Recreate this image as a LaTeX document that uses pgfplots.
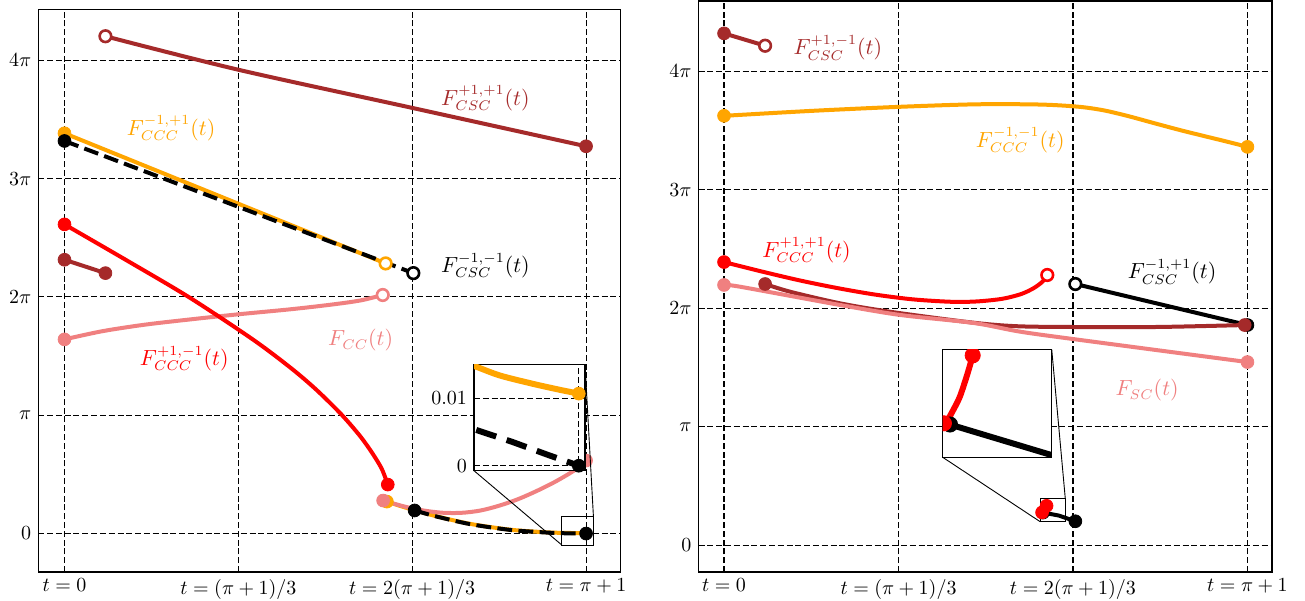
\documentclass[border=0pt]{standalone}
\usepackage{pgfplots}
\pgfplotsset{compat=1.18}
\definecolor{mybrown}{HTML}{A52A2A}
\definecolor{myorange}{HTML}{FFA500}
\definecolor{myred}{HTML}{FF0000}
\definecolor{mypink}{HTML}{F08080}
\pgfplotsset{
  mainax/.style={
    scale only axis,
    anchor=south west,
    grid=major,
    major grid style={black, line width=0.55pt, dash pattern=on 3pt off 1.4pt},
    major tick length=0pt,
    axis line style={line width=0.75pt},
    xtick={0,1.38053,2.76106,4.14159},
    xticklabels={$t=0$,$t=(\pi+1)/3$,$t=2(\pi+1)/3$,$t=\pi+1$},
    ytick={0,1,2,3,4},
    yticklabels={$0$,$\pi$,$2\pi$,$3\pi$,$4\pi$},
    tick label style={font=\fontsize{9.6}{11}\selectfont},
    axis background/.style={fill=white},
  },
  ln/.style={line width=2pt},
  fm/.style={only marks, mark=*, mark size=3.2pt, mark options={solid}},
  om/.style={only marks, mark=*, mark size=2.9pt, mark options={solid, fill=white, line width=1.3pt}},
}
\newcommand{\lab}[1]{\fontsize{10.7}{13}\selectfont$#1$}
\begin{document}
\begin{tikzpicture}
\useasboundingbox (0,0) rectangle (652.5pt,300pt);
% ---------------- LEFT PANEL ----------------
\begin{axis}[mainax, name=L, at={(19.15pt,14pt)}, width=291.1pt, height=281.25pt,
  xmin=-0.208, xmax=4.415, ymin=-0.325, ymax=4.429]
% brown long
\addplot[ln, mybrown, smooth] coordinates {(0.325,4.203) (1.38,3.92) (2.75,3.60) (4.1416,3.273)};
\addplot[om, mybrown] coordinates {(0.325,4.203)};
\addplot[fm, mybrown] coordinates {(4.1416,3.273)};
% brown short
\addplot[ln, mybrown] coordinates {(0,2.314) (0.325,2.201)};
\addplot[fm, mybrown] coordinates {(0,2.314) (0.325,2.201)};
% orange upper
\addplot[ln, myorange] coordinates {(0,3.383) (2.55,2.283)};
\addplot[fm, myorange] coordinates {(0,3.383)};
\addplot[om, myorange] coordinates {(2.55,2.283)};
% orange lower
\addplot[ln, myorange, smooth] coordinates {(2.56,0.270) (2.66,0.235) (2.78,0.197) (2.95,0.147) (3.195,0.087) (3.4,0.052) (3.592,0.027) (3.855,0.009) (4.0,0.005) (4.1416,0.0034)};
\addplot[fm, myorange] coordinates {(2.56,0.270)};
% pink upper
\addplot[ln, mypink, smooth] coordinates {(0,1.641) (0.3,1.71) (0.636,1.765) (1.0,1.81) (1.38,1.853) (1.8,1.896) (2.12,1.935) (2.35,1.97) (2.527,2.016)};
\addplot[fm, mypink] coordinates {(0,1.641)};
\addplot[om, mypink] coordinates {(2.527,2.016)};
% pink lower
\addplot[ln, mypink, smooth] coordinates {(2.53,0.279) (2.7,0.228) (2.85,0.195) (3.0,0.176) (3.15,0.175) (3.3,0.194) (3.45,0.235) (3.6,0.29) (3.75,0.36) (3.9,0.44) (4.05,0.535) (4.1416,0.617)};
\addplot[fm, mypink] coordinates {(2.53,0.279) (4.1416,0.617)};
% red
\addplot[ln, myred, smooth] coordinates {(0,2.613) (0.5,2.305) (1.0,1.99) (1.5,1.637) (1.8,1.397) (2.0,1.215) (2.2,1.005) (2.35,0.82) (2.45,0.67) (2.52,0.545) (2.567,0.414)};
\addplot[fm, myred] coordinates {(0,2.613) (2.567,0.414)};
% black dashed upper
\addplot[ln, black, dash pattern=on 7.4pt off 3.2pt] coordinates {(0,3.318) (2.77,2.201)};
\addplot[fm, black] coordinates {(0,3.318)};
\addplot[om, black] coordinates {(2.77,2.201)};
% black dashed lower
\addplot[ln, black, dash pattern=on 7.4pt off 3.2pt, smooth] coordinates {(2.78,0.195) (2.95,0.145) (3.195,0.085) (3.4,0.05) (3.592,0.025) (3.855,0.007) (4.0,0.0017) (4.1416,0)};
\addplot[fm, black] coordinates {(2.78,0.195) (4.1416,0)};
% labels
\node[mybrown] at (axis cs:3.342,3.679) {\lab{F^{+1,+1}_{CSC}(t)}};
\node[myorange] at (axis cs:0.846,3.425) {\lab{F^{-1,+1}_{CCC}(t)}};
\node[black] at (axis cs:3.342,2.266) {\lab{F^{-1,-1}_{CSC}(t)}};
\node[mypink] at (axis cs:2.352,1.632) {\lab{F_{CC}(t)}};
\node[myred] at (axis cs:0.951,1.480) {\lab{F^{+1,-1}_{CCC}(t)}};
% indicated rectangle
\draw[line width=0.45pt] (axis cs:3.949,-0.097) rectangle (axis cs:4.200,0.142);
\coordinate (rLsw) at (axis cs:3.949,-0.097);
\coordinate (rLne) at (axis cs:4.200,0.142);
\end{axis}
% left inset
\begin{axis}[name=IL, scale only axis, anchor=south west, at={(237pt,64.65pt)}, width=55.5pt, height=53.2pt,
  xmin=4.0, xmax=4.15, ymin=-0.00074, ymax=0.01504,
  xtick={4.14159}, xticklabels={}, ytick={0,0.01}, yticklabels={$0$,$0.01$},
  scaled y ticks=false, major tick length=0pt,
  grid=major, major grid style={black, line width=0.55pt, dash pattern=on 3pt off 1.4pt},
  axis line style={line width=0.75pt},
  tick label style={font=\fontsize{9.8}{12}\selectfont},
  axis background/.style={fill=white}]
\addplot[line width=3pt, myorange, smooth] coordinates {(3.99,0.0152) (4.0036,0.01466) (4.035,0.01338) (4.079,0.01216) (4.115,0.01128) (4.1416,0.01069)};
\addplot[fm, myorange] coordinates {(4.1416,0.01069)};
\addplot[line width=3pt, black, dash pattern=on 10.5pt off 5.5pt] coordinates {(4.003,0.0053) (4.05,0.0036) (4.1,0.0016) (4.1416,0)};
\addplot[fm, black] coordinates {(4.1416,0)};
\end{axis}
\draw[line width=0.45pt] (IL.south west) -- (rLsw);
\draw[line width=0.45pt] (IL.north east) -- (rLne);
% ---------------- RIGHT PANEL ----------------
\begin{axis}[mainax, name=R, at={(349.25pt,14pt)}, width=286.75pt, height=285.5pt,
  xmin=-0.202, xmax=4.336, ymin=-0.223, ymax=4.591]
% brown top
\addplot[ln, mybrown] coordinates {(0,4.318) (0.325,4.214)};
\addplot[fm, mybrown] coordinates {(0,4.318)};
\addplot[om, mybrown] coordinates {(0.325,4.214)};
% orange
\addplot[ln, myorange, smooth] coordinates {(0,3.623) (0.7,3.665) (1.392,3.699) (2.0,3.72) (2.5,3.718) (2.8,3.70) (3.0,3.67) (3.2,3.62) (3.4,3.562) (3.6,3.505) (3.8,3.452) (4.0,3.40) (4.1416,3.361)};
\addplot[fm, myorange] coordinates {(0,3.623) (4.1416,3.361)};
% red upper
\addplot[ln, myred, smooth] coordinates {(0,2.390) (0.3,2.31) (0.6,2.235) (0.9,2.17) (1.2,2.115) (1.5,2.075) (1.8,2.055) (2.0,2.058) (2.2,2.08) (2.35,2.12) (2.45,2.17) (2.52,2.225) (2.558,2.281)};
\addplot[fm, myred] coordinates {(0,2.390)};
\addplot[om, myred] coordinates {(2.558,2.281)};
% black upper
\addplot[ln, black] coordinates {(2.780,2.205) (4.1416,1.859)};
\addplot[om, black] coordinates {(2.780,2.205)};
\addplot[fm, black] coordinates {(4.1416,1.859)};
% red lower
\addplot[ln, myred, smooth] coordinates {(2.552,0.335) (2.5504,0.3309) (2.5443,0.3171) (2.536,0.3007) (2.5278,0.2897) (2.5196,0.2801) (2.5165,0.279)};
% black lower
\addplot[ln, black] coordinates {(2.524,0.278) (2.6495,0.2528) (2.780,0.205)};
\addplot[fm, black] coordinates {(2.524,0.278) (2.780,0.205)};
\addplot[fm, myred] coordinates {(2.552,0.335) (2.5165,0.279)};
% brown lower
\addplot[ln, mybrown, smooth] coordinates {(0.325,2.205) (0.523,2.140) (0.919,2.042) (1.315,1.971) (1.972,1.879) (2.344,1.848) (2.898,1.842) (3.453,1.843) (4.12,1.859)};
\addplot[fm, mybrown] coordinates {(0.325,2.205) (4.12,1.859)};
% pink
\addplot[ln, mypink, smooth] coordinates {(0,2.197) (0.127,2.182) (0.919,2.028) (1.394,1.944) (1.972,1.877) (2.344,1.803) (2.819,1.733) (4.1416,1.547)};
\addplot[fm, mypink] coordinates {(0,2.197) (4.1416,1.547)};
% labels
\node[mybrown] at (axis cs:0.900,4.194) {\lab{F^{+1,-1}_{CSC}(t)}};
\node[myorange] at (axis cs:2.344,3.418) {\lab{F^{-1,-1}_{CCC}(t)}};
\node[myred] at (axis cs:0.653,2.489) {\lab{F^{+1,+1}_{CCC}(t)}};
\node[black] at (axis cs:3.545,2.306) {\lab{F^{-1,+1}_{CSC}(t)}};
\node[mypink] at (axis cs:3.348,1.308) {\lab{F_{SC}(t)}};
\draw[line width=0.45pt] (axis cs:2.502,0.2007) rectangle (axis cs:2.700,0.398);
\coordinate (rRsw) at (axis cs:2.502,0.2007);
\coordinate (rRne) at (axis cs:2.700,0.398);
\end{axis}
% right inset
\begin{axis}[name=IR, scale only axis, anchor=south west, at={(471.35pt,71.35pt)}, width=54.5pt, height=54pt,
  xmin=2.515, xmax=2.6495, ymin=0.251, ymax=0.340,
  xtick=\empty, ytick=\empty, clip marker paths=true,
  axis line style={line width=0.75pt},
  axis background/.style={fill=white}]
\addplot[line width=3pt, myred, smooth] coordinates {(2.552,0.335) (2.5504,0.3309) (2.5443,0.3171) (2.536,0.3007) (2.5278,0.2897) (2.5196,0.2801) (2.5165,0.279)};
\addplot[line width=3pt, black] coordinates {(2.524,0.278) (2.6495,0.2528) (2.780,0.205)};
\addplot[fm, black, mark size=3.8pt] coordinates {(2.524,0.278)};
\addplot[fm, myred, mark size=3.8pt] coordinates {(2.552,0.335) (2.5165,0.279)};
\end{axis}
\draw[line width=0.45pt] (IR.south west) -- (rRsw);
\draw[line width=0.45pt] (IR.north east) -- (rRne);
\end{tikzpicture}
\end{document}
